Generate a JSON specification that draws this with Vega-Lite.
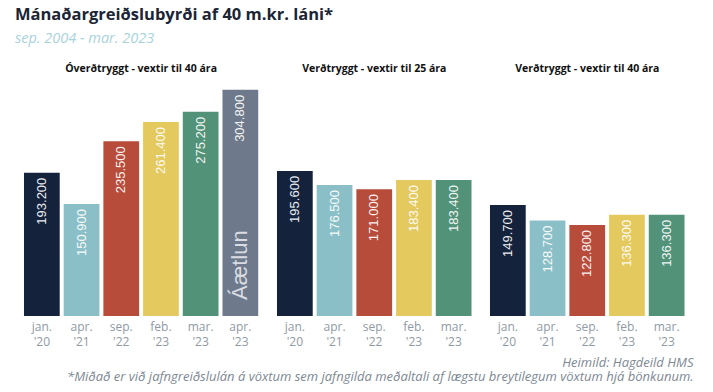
{
  "$schema": "https://vega.github.io/schema/vega-lite/v6.json",
  "padding": {"left": 15, "top": 6, "right": 21, "bottom": 3},
  "background": "#ffffff",
  "title": {
    "text": "Mánaðargreiðslubyrði af 40 m.kr. láni*",
    "subtitle": "sep. 2004 - mar. 2023",
    "anchor": "start",
    "font": "Open Sans",
    "fontSize": 16.5,
    "fontWeight": "bold",
    "color": "#1b2535",
    "subtitleFont": "Open Sans",
    "subtitleFontStyle": "italic",
    "subtitleFontSize": 14.5,
    "subtitleColor": "#a9d3dc",
    "subtitlePadding": 9,
    "offset": 18
  },
  "data": {
    "values": [
      {"panel": "A", "period": "jan. '20", "value": 193.2, "label": "193.200", "note": ""},
      {"panel": "A", "period": "apr. '21", "value": 150.9, "label": "150.900", "note": ""},
      {"panel": "A", "period": "sep. '22", "value": 235.5, "label": "235.500", "note": ""},
      {"panel": "A", "period": "feb. '23", "value": 261.4, "label": "261.400", "note": ""},
      {"panel": "A", "period": "mar. '23", "value": 275.2, "label": "275.200", "note": ""},
      {"panel": "A", "period": "apr. '23", "value": 304.8, "label": "304.800", "note": "Áætlun"},
      {"panel": "B", "period": "jan. '20", "value": 195.6, "label": "195.600", "note": ""},
      {"panel": "B", "period": "apr. '21", "value": 176.5, "label": "176.500", "note": ""},
      {"panel": "B", "period": "sep. '22", "value": 171.0, "label": "171.000", "note": ""},
      {"panel": "B", "period": "feb. '23", "value": 183.4, "label": "183.400", "note": ""},
      {"panel": "B", "period": "mar. '23", "value": 183.4, "label": "183.400", "note": ""},
      {"panel": "C", "period": "jan. '20", "value": 149.7, "label": "149.700", "note": ""},
      {"panel": "C", "period": "apr. '21", "value": 128.7, "label": "128.700", "note": ""},
      {"panel": "C", "period": "sep. '22", "value": 122.8, "label": "122.800", "note": ""},
      {"panel": "C", "period": "feb. '23", "value": 136.3, "label": "136.300", "note": ""},
      {"panel": "C", "period": "mar. '23", "value": 136.3, "label": "136.300", "note": ""}
    ]
  },
  "vconcat": [
    {
      "title": {
        "text": "Heimild: Hagdeild HMS",
        "subtitle": "*Miðað er við jafngreiðslulán á vöxtum sem jafngilda meðaltali af lægstu breytilegum vöxtum hjá bönkunum.",
        "orient": "bottom",
        "anchor": "end",
        "dx": 7,
        "offset": 10,
        "font": "Open Sans",
        "fontStyle": "italic",
        "fontWeight": "normal",
        "fontSize": 13,
        "color": "#7d8894",
        "subtitleFont": "Open Sans",
        "subtitleFontStyle": "italic",
        "subtitleFontSize": 13,
        "subtitleColor": "#7d8894",
        "subtitlePadding": 1
      },
      "spacing": 14,
      "hconcat": [
        {
          "title": {"text": "Óverðtryggt - vextir til 40 ára"},
          "transform": [{"filter": "datum.panel == 'A'"}],
          "width": {"step": 39.7},
          "height": 230,
          "encoding": {
            "x": {"field": "period", "type": "nominal", "sort": null, "scale": {"paddingInner": 0.1, "paddingOuter": 0.05}},
            "y": {"field": "value", "type": "quantitative", "scale": {"domain": [0, 310]}, "axis": {"labels": false, "ticks": false, "domain": false, "grid": false, "title": null, "minExtent": 7, "maxExtent": 7}}
          },
          "layer": [
            {"mark": {"type": "bar"}, "encoding": {"color": {"field": "period", "type": "nominal", "legend": null, "scale": {"domain": ["jan. '20", "apr. '21", "sep. '22", "feb. '23", "mar. '23", "apr. '23"], "range": ["#14223c", "#8bbfc7", "#b84c3b", "#e4ca5e", "#529279", "#6e7a8b"]}}}},
            {"mark": {"type": "text", "angle": 270, "align": "right", "baseline": "middle", "dx": -5, "font": "Liberation Sans", "fontSize": 13, "color": "#ffffff", "opacity": 0.92}, "encoding": {"text": {"field": "label"}}},
            {"mark": {"type": "text", "angle": 270, "align": "left", "baseline": "middle", "dx": 16, "font": "Liberation Sans", "fontSize": 22, "color": "#d9dde3"}, "encoding": {"y": {"datum": 0}, "text": {"field": "note"}}}
          ]
        },
        {
          "title": {"text": "Verðtryggt - vextir til 25 ára"},
          "transform": [{"filter": "datum.panel == 'B'"}],
          "width": {"step": 39.7},
          "height": 230,
          "encoding": {
            "x": {"field": "period", "type": "nominal", "sort": null, "scale": {"paddingInner": 0.1, "paddingOuter": 0.05}},
            "y": {"field": "value", "type": "quantitative", "scale": {"domain": [0, 310]}, "axis": null}
          },
          "layer": [
            {"mark": {"type": "bar"}, "encoding": {"color": {"field": "period", "type": "nominal", "legend": null, "scale": {"domain": ["jan. '20", "apr. '21", "sep. '22", "feb. '23", "mar. '23", "apr. '23"], "range": ["#14223c", "#8bbfc7", "#b84c3b", "#e4ca5e", "#529279", "#6e7a8b"]}}}},
            {"mark": {"type": "text", "angle": 270, "align": "right", "baseline": "middle", "dx": -5, "font": "Liberation Sans", "fontSize": 13, "color": "#ffffff", "opacity": 0.92}, "encoding": {"text": {"field": "label"}}}
          ]
        },
        {
          "title": {"text": "Verðtryggt - vextir til 40 ára"},
          "transform": [{"filter": "datum.panel == 'C'"}],
          "width": {"step": 39.7},
          "height": 230,
          "encoding": {
            "x": {"field": "period", "type": "nominal", "sort": null, "scale": {"paddingInner": 0.1, "paddingOuter": 0.05}},
            "y": {"field": "value", "type": "quantitative", "scale": {"domain": [0, 310]}, "axis": null}
          },
          "layer": [
            {"mark": {"type": "bar"}, "encoding": {"color": {"field": "period", "type": "nominal", "legend": null, "scale": {"domain": ["jan. '20", "apr. '21", "sep. '22", "feb. '23", "mar. '23", "apr. '23"], "range": ["#14223c", "#8bbfc7", "#b84c3b", "#e4ca5e", "#529279", "#6e7a8b"]}}}},
            {"mark": {"type": "text", "angle": 270, "align": "right", "baseline": "middle", "dx": -5, "font": "Liberation Sans", "fontSize": 13, "color": "#ffffff", "opacity": 0.92}, "encoding": {"text": {"field": "label"}}}
          ]
        }
      ]
    }
  ],
  "resolve": {"scale": {"color": "shared"}},
  "config": {
    "view": {"stroke": null},
    "axisX": {
      "title": null,
      "labelExpr": "split(datum.label, ' ')",
      "labelAngle": 0,
      "labelFont": "Open Sans",
      "labelFontSize": 12,
      "labelLineHeight": 15,
      "labelColor": "#8f9aa5",
      "labelPadding": 5,
      "ticks": false,
      "domain": false,
      "grid": false
    },
    "title": {"font": "Open Sans", "fontSize": 10.5, "fontWeight": "bold", "color": "#111111", "offset": 12}
  }
}
